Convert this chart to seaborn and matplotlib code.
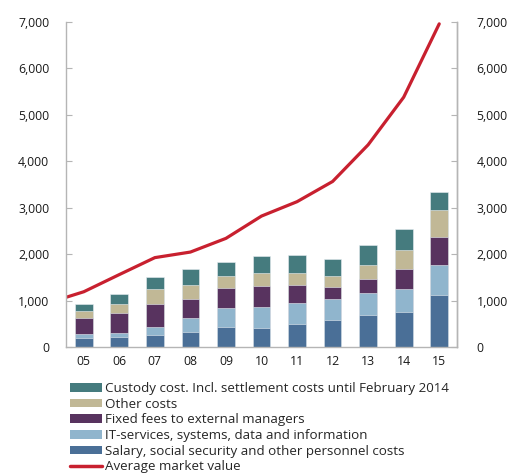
import numpy as np
import pandas as pd
import matplotlib
matplotlib.use("Agg")
import matplotlib.pyplot as plt
from matplotlib.patches import Patch
from matplotlib.lines import Line2D
from matplotlib.ticker import FuncFormatter
import seaborn as sns

years = ["05", "06", "07", "08", "09", "10", "11", "12", "13", "14", "15"]
salary = [190, 210, 265, 330, 440, 415, 490, 580, 690, 760, 1120]
it_services = [85, 100, 165, 295, 400, 445, 465, 450, 465, 490, 645]
fixed_fees = [360, 430, 505, 415, 425, 445, 375, 265, 315, 440, 610]
other_costs = [145, 180, 310, 290, 265, 290, 260, 235, 300, 410, 580]
custody = [145, 220, 270, 345, 295, 370, 400, 360, 425, 450, 390]

line_years = ["04", "05", "06", "07", "08", "09", "10", "11", "12", "13", "14", "15"]
market_value = [950, 1190, 1560, 1925, 2045, 2340, 2820, 3130, 3565, 4355, 5380, 6960]

labels = [
    "Custody cost. Incl. settlement costs until February 2014",
    "Other costs",
    "Fixed fees to external managers",
    "IT-services, systems, data and information",
    "Salary, social security and other personnel costs",
]
line_label = "Average market value"
colors = ["#457b7e", "#c1b896", "#58335f", "#90b5cd", "#4a6f97"]
line_color = "#c8202f"

sns.set_style("white")
plt.rcParams["font.family"] = ["Open Sans", "DejaVu Sans"]

fig = plt.figure(figsize=(5.1, 4.75), dpi=100)
ax = fig.add_axes([66 / 510, 1 - 347 / 475, (457 - 66) / 510, (347 - 22) / 475])

series = [salary, it_services, fixed_fees, other_costs, custody]  # bottom -> top
ser_colors = colors[::-1]
cum = np.cumsum(np.array(series), axis=0)
df = pd.DataFrame({"year": years})
for i in range(len(series) - 1, -1, -1):
    df["v"] = cum[i]
    sns.barplot(data=df, x="year", y="v", color=ser_colors[i], saturation=1,
                width=0.5, ax=ax, edgecolor="#e8eef2", linewidth=0.4)

xpos = np.arange(len(line_years)) - (len(line_years) - len(years))
sns.lineplot(x=xpos, y=market_value, color=line_color, linewidth=2.3, ax=ax)

ax.set_xlim(-0.5, len(years) - 0.5)
ax.set_ylim(0, 7000)
ax.set_yticks(np.arange(0, 7001, 1000))
fmt = FuncFormatter(lambda v, p: f"{int(v):,}")
ax.yaxis.set_major_formatter(fmt)
ax.set_xlabel("")
ax.set_ylabel("")
ax.tick_params(axis="y", direction="in", length=4, width=0.8, color="#b5b5b5",
               labelsize=8.8, labelcolor="#1a1a1a", pad=12)
ax.tick_params(axis="x", length=0, labelsize=8.8, labelcolor="#1a1a1a", pad=6)
for s in ["top"]:
    ax.spines[s].set_visible(False)
for s in ["left", "right", "bottom"]:
    ax.spines[s].set_visible(True)
    ax.spines[s].set_color("#b5b5b5")
    ax.spines[s].set_linewidth(1.0)

ax2 = ax.twinx()
ax2.set_ylim(0, 7000)
ax2.set_yticks(np.arange(0, 7001, 1000))
ax2.yaxis.set_major_formatter(fmt)
ax2.tick_params(axis="y", direction="in", length=4, width=0.8, color="#b5b5b5",
                labelsize=8.8, labelcolor="#1a1a1a", pad=14)
for s in ["top", "left", "bottom"]:
    ax2.spines[s].set_visible(False)
ax2.spines["right"].set_color("#b5b5b5")
ax2.spines["right"].set_linewidth(1.0)

handles = [Patch(facecolor=c, edgecolor="none") for c in colors]
handles.append(Line2D([0], [0], color=line_color, linewidth=2.5))
fig.legend(handles, labels + [line_label], loc="upper left",
           bbox_to_anchor=(70 / 510, 1 - 382 / 475), frameon=False,
           fontsize=9.6, handlelength=2.4, handleheight=0.6,
           labelspacing=0.2, handletextpad=0.25, borderaxespad=0, borderpad=0)

fig.savefig("out.png", dpi=100)
